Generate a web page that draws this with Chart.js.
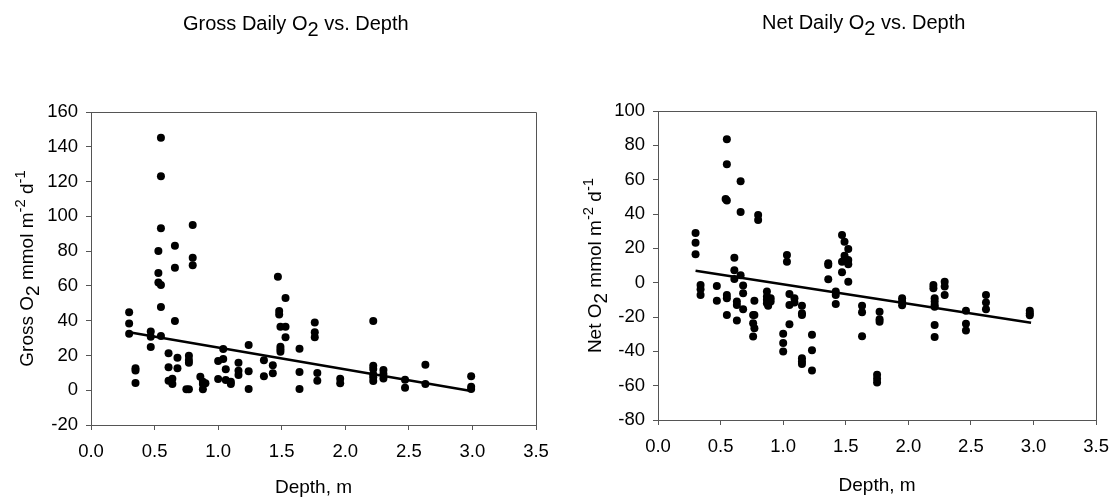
<!DOCTYPE html>
<html>
<head>
<meta charset="utf-8">
<script src="https://cdn.jsdelivr.net/npm/chart.js@4/dist/chart.umd.min.js"></script>
<style>
  body { margin: 0; background: #fff; }
  canvas { position: absolute; top: 0; }
</style>
</head>
<body>
<canvas id="grossChart" width="560" height="501" style="left:0"></canvas>
<canvas id="netChart" width="560" height="501" style="left:560px"></canvas>
<script>
// Gross daily O2 (mmol m-2 d-1) against depth (m)
const grossDepth = [0.30,0.30,0.30, 0.35,0.35,0.35, 0.47,0.47,0.47, 0.53,0.53,0.53,
  0.55,0.55,0.55,0.55,0.55,0.55, 0.61,0.61,0.61, 0.64,0.64, 0.66,0.66,0.66, 0.68,0.68,
  0.77,0.77,0.77,0.77, 0.75, 0.80,0.80,0.80, 0.86, 0.88,0.88,0.88, 0.90, 1.00,1.00,
  1.04,1.04, 1.06,1.06, 1.10,1.10, 1.16,1.16,1.16, 1.24,1.24,1.24, 1.36,1.36, 1.43,1.43,
  1.47, 1.48,1.48, 1.49,1.49,1.49,1.49, 1.53,1.53,1.53, 1.64,1.64,1.64, 1.76,1.76,1.76,
  1.78,1.78, 1.96,1.96, 2.22,2.22,2.22,2.22,2.22,2.22, 2.30,2.30,2.30, 2.47,2.47,
  2.63,2.63, 2.99,2.99,2.99];
const grossO2 = [44.8,38.3,32.5, 12.6,11.4,4.1, 33.7,30.8,24.8, 80,67.4,62,
  145.2,123,93.1,60.5,47.8,31.2, 21.2,13.2,5.5, 6.6,3.6, 83.1,70.4,39.8, 18.7,12.6,
  19.8,17.4,15.8,0.5, 0.5, 95,76.2,71.8, 7.8, 4.9,3.6,0.5, 4, 16.8,6.4,
  23.7,17.9, 12,5.9, 4.9,3.6, 15.8,11.2,8.7, 26,10.9,0.7, 17.2,8, 14.3,9.7,
  65.3, 45.5,43.6, 36.5,25,23.5,22.1, 53,36.5,30.4, 23.9,10.5,0.7, 39,33.3,30.4,
  9.9,5.5, 6.6,4, 39.8,14.1,12.2,9.1,7.4,5.3, 11.6,9.3,6.8, 6,1.4,
  14.7,3.6, 8,2,0.7];
const grossFitX = [0.30, 2.99];
const grossFitY = [33.3, -0.5];

// Net daily O2 against depth
const netDepth = [0.30,0.30,0.30, 0.34,0.34,0.34, 0.47,0.47, 0.55,0.55,0.55,0.55,0.55,0.55,
  0.54, 0.61,0.61,0.61, 0.63,0.63,0.63, 0.66,0.66,0.66, 0.68,0.68,0.68, 0.77,0.77,0.77,
  0.76,0.76,0.76, 0.80,0.80, 0.87,0.87,0.87,0.87, 0.88, 0.90,0.90, 1.00,1.00,1.00,
  1.03,1.03, 1.05,1.05,1.05, 1.09,1.09, 1.15,1.15,1.15,1.15,1.15,1.15, 1.23,1.23,1.23,
  1.36,1.36,1.36, 1.42,1.42,1.42, 1.47,1.47,1.47, 1.49,1.49, 1.52,1.52,1.52,1.52,
  1.63,1.63,1.63, 1.75,1.75,1.75, 1.77,1.77,1.77, 1.95,1.95,1.95, 2.20,2.20,
  2.21,2.21,2.21,2.21,2.21,2.21, 2.29,2.29,2.29, 2.46,2.46,2.46, 2.62,2.62,2.62,
  2.97,2.97,2.97];
const netO2 = [28.9,23.3,16.5, -1.3,-3.9,-7.2, -1.9,-10.6, 83.5,69,47.9,-7.2,-9.1,-18.8,
  48.7, 14.5,7.2,2.2, -11,-13,-22.1, 59.1,41.1,4.3, -1.7,-6.2,-15.5, -10.5,-18.8,-26.5,
  -18.8,-23.6,-31.4, 39.4,36.5, -5.2,-8.1,-10,-12, -13.5, -9.1,-11, -29.8,-35.2,-40.1,
  16.1,12.2, -6.6,-13,-24.2, -9.1,-11.6, -13.4,-17.8,-18.8,-44,-45.9,-47.4, -30.4,-39.3,-51.2,
  11.3,10.3,2, -5.2,-7.2,-12.4, 27.7,12.2,6, 23.8,15.7, 19.6,13.2,10.7,0.6,
  -13.5,-17.2,-31.2, -53.7,-56,-58.1, -16.9,-21.3,-22.8, -9.1,-11,-13.1, -1.3,-3.3,
  -9.1,-11,-13,-14,-24.6,-31.7, 0.6,-2.3,-7.2, -16.3,-24,-27.9, -7.2,-11.6,-15.5,
  -16.3,-17.8,-19];
const netFitX = [0.30, 2.98];
const netFitY = [7, -23.3];

const depthTicks = [0, 0.5, 1, 1.5, 2, 2.5, 3, 3.5];
const grossTicks = [-20, 0, 20, 40, 60, 80, 100, 120, 140, 160];
const netTicks = [-80, -60, -40, -20, 0, 20, 40, 60, 80, 100];

const FONT = 'Liberation Sans, Arial, sans-serif';
const AXIS = '#555';

function toPoints(xs, ys) {
    return xs.map((x, i) => ({ x: x, y: ys[i] }));
}

// draws text made of runs, some of them sub- or superscript
function drawRuns(ctx, runs, x, y, size, rotate, align) {
    const parts = runs.map(r => {
        const s = r.sup ? size * 0.78 : size;
        ctx.font = s + 'px ' + FONT;
        return { t: r.t, s: s, w: ctx.measureText(r.t).width,
                 dy: r.sub ? size * 0.3 : (r.sup ? -size * 0.42 : 0) };
    });
    const total = parts.reduce((a, p) => a + p.w, 0);
    ctx.save();
    ctx.translate(x, y);
    if (rotate) ctx.rotate(-Math.PI / 2);
    ctx.fillStyle = '#000';
    ctx.textBaseline = 'alphabetic';
    ctx.textAlign = 'left';
    let cx = align === 'center' ? -total / 2 : 0;
    parts.forEach(p => {
        ctx.font = p.s + 'px ' + FONT;
        ctx.fillText(p.t, cx, p.dy);
        cx += p.w;
    });
    ctx.restore();
}

const framePlugin = {
    id: 'frameAndText',
    afterDraw(chart, args, opts) {
        const ctx = chart.ctx;
        const a = chart.chartArea;
        ctx.save();
        ctx.strokeStyle = AXIS;
        ctx.lineWidth = 1;
        ctx.beginPath();
        ctx.moveTo(a.left, Math.round(a.top) + 0.5);
        ctx.lineTo(Math.round(a.right) + 0.5, Math.round(a.top) + 0.5);
        ctx.lineTo(Math.round(a.right) + 0.5, a.bottom);
        ctx.stroke();
        ctx.restore();
        drawRuns(ctx, opts.title, opts.titleX, opts.titleY, 20, false, 'left');
        drawRuns(ctx, opts.yLabel, opts.yLabelX, (a.top + a.bottom) / 2, 19, true, 'center');
    }
};

function makeChart(id, xs, ys, fitX, fitY, yTicks, box, text) {
    const ctx = document.getElementById(id).getContext('2d');
    return new Chart(ctx, {
        type: 'scatter',
        data: {
            datasets: [{
                data: toPoints(xs, ys),
                backgroundColor: '#000',
                borderWidth: 0,
                pointRadius: 4
            }, {
                type: 'line',
                data: toPoints(fitX, fitY),
                borderColor: '#000',
                borderWidth: 2.5,
                pointRadius: 0,
                fill: false
            }]
        },
        options: {
            responsive: false,
            animation: false,
            layout: { padding: { left: 0, top: box.top, right: box.right, bottom: 0 } },
            scales: {
                x: {
                    type: 'linear',
                    min: depthTicks[0],
                    max: depthTicks[depthTicks.length - 1],
                    afterBuildTicks: s => { s.ticks = depthTicks.map(v => ({ value: v })); },
                    afterFit: s => { s.height = box.xHeight; },
                    grid: { drawOnChartArea: false, tickLength: 5, color: AXIS },
                    border: { color: AXIS, width: 1 },
                    ticks: {
                        color: '#000', padding: 11,
                        font: { family: FONT, size: 18.5 },
                        callback: v => v.toFixed(1)
                    },
                    title: {
                        display: true, text: 'Depth, m', color: '#000',
                        font: { family: FONT, size: 19 },
                        padding: { top: 0, bottom: box.xTitlePad }
                    }
                },
                y: {
                    type: 'linear',
                    min: yTicks[0],
                    max: yTicks[yTicks.length - 1],
                    afterBuildTicks: s => { s.ticks = yTicks.map(v => ({ value: v })); },
                    afterFit: s => { s.width = box.yWidth; },
                    grid: { drawOnChartArea: false, tickLength: 5, color: AXIS },
                    border: { color: AXIS, width: 1 },
                    ticks: {
                        color: '#000', padding: 8,
                        font: { family: FONT, size: 18.5 }
                    }
                }
            },
            plugins: {
                legend: { display: false },
                tooltip: { enabled: false },
                frameAndText: text
            }
        },
        plugins: [framePlugin]
    });
}

makeChart('grossChart', grossDepth, grossO2, grossFitX, grossFitY, grossTicks,
    { top: 112, right: 24, yWidth: 91, xHeight: 76, xTitlePad: 2 },
    {
        title: [{ t: 'Gross Daily O' }, { t: '2', sub: true }, { t: ' vs. Depth' }],
        titleX: 183, titleY: 30,
        yLabel: [{ t: 'Gross O' }, { t: '2', sub: true }, { t: ' mmol m' }, { t: '-2', sup: true },
                 { t: ' d' }, { t: '-1', sup: true }],
        yLabelX: 33
    });

makeChart('netChart', netDepth, netO2, netFitX, netFitY, netTicks,
    { top: 111, right: 20, yWidth: 98, xHeight: 81, xTitlePad: 4 },
    {
        title: [{ t: 'Net Daily O' }, { t: '2', sub: true }, { t: ' vs. Depth' }],
        titleX: 202, titleY: 29,
        yLabel: [{ t: 'Net O' }, { t: '2', sub: true }, { t: ' mmol m' }, { t: '-2', sup: true },
                 { t: ' d' }, { t: '-1', sup: true }],
        yLabelX: 41
    });
</script>
</body>
</html>
